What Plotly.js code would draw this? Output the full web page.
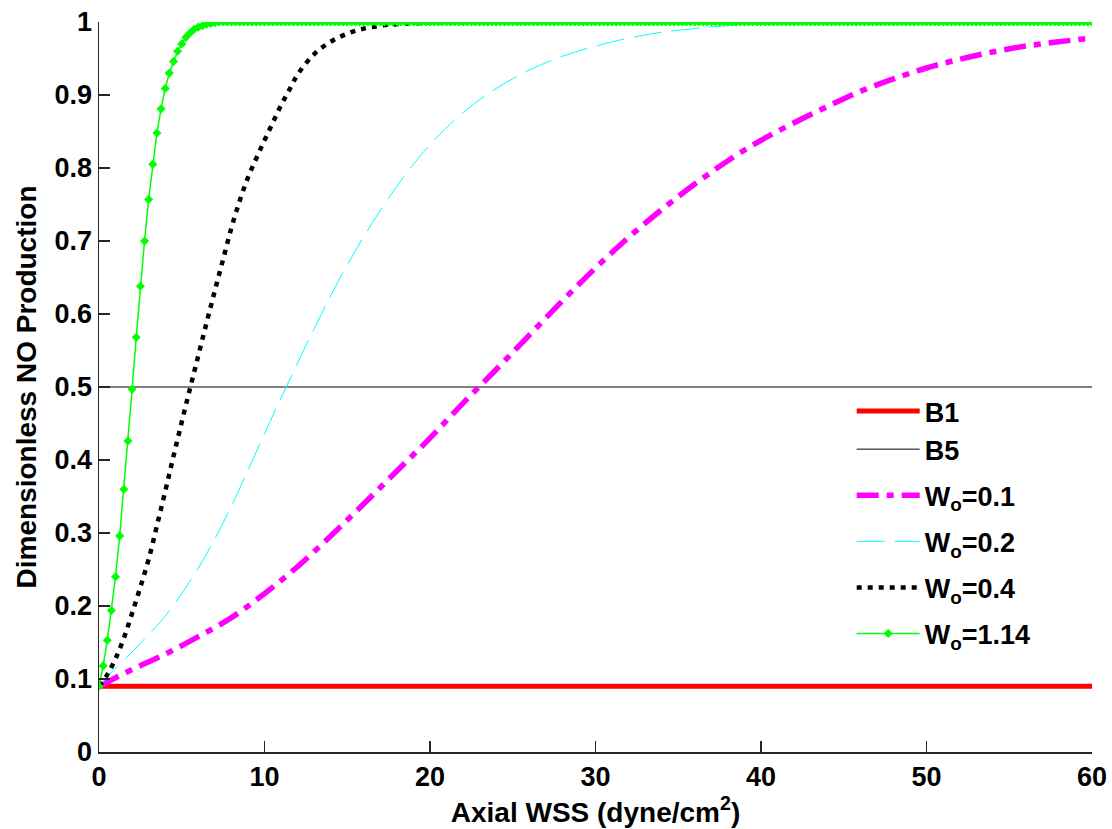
<!DOCTYPE html>
<html>
<head>
<meta charset="utf-8">
<script src="https://cdn.plot.ly/plotly-3.0.1.min.js"></script>
<style>html,body{margin:0;padding:0;background:#fff;}#chart{width:1112px;height:829px;}</style>
</head>
<body>
<div id="chart"></div>
<script>
// Reference lines
const b1X = [0, 60];
const b1Y = [0.09, 0.09];
const b5X = [0, 60];
const b5Y = [0.5, 0.5];

// Wo = 0.1
const m1X = [0,2,4,6,8,10,12,14,16,18,20,22,24,26,28,30,32,34,36,38,40,42,44,46,48,50,52,54,56,58,60];
const m1Y = [0.09,0.113,0.134,0.158,0.184,0.217,0.254,0.296,0.340,0.385,0.430,0.478,0.524,0.571,0.618,0.663,0.705,0.743,0.778,0.810,0.838,0.862,0.884,0.905,0.922,0.937,0.949,0.959,0.967,0.973,0.978];

// Wo = 0.2
const c2X = [0,1,2,3,4,5,6,7,8,9,10,11,12,13,14,15,16,17,18,19,20,22,24,26,28,30,32,34,36,38,40,45,50,55,60];
const c2Y = [0.09,0.115,0.137,0.161,0.186,0.217,0.252,0.292,0.337,0.386,0.436,0.485,0.533,0.580,0.625,0.667,0.706,0.742,0.775,0.805,0.832,0.876,0.909,0.934,0.953,0.967,0.978,0.986,0.991,0.995,0.997,0.999,1,1,1];

// Wo = 0.4
const k4X = [0,0.5,1,1.5,2,2.5,3,3.5,4,4.5,5,5.5,6,6.5,7,7.5,8,8.5,9,9.5,10,10.5,11,11.5,12,13,14,15,16,17,18,20,22,25,30,40,50,60];
const k4Y = [0.09,0.106,0.128,0.156,0.19,0.226,0.264,0.31,0.357,0.405,0.452,0.498,0.543,0.588,0.632,0.675,0.718,0.755,0.787,0.813,0.838,0.862,0.886,0.907,0.928,0.956,0.973,0.984,0.991,0.995,0.997,0.999,1,1,1,1,1,1];

// Wo = 1.14 (sampled every 0.25 dyne/cm2 from 0 to 60)
const gStep = 0.25;
const g114Y = [
0.09,0.118,0.153,0.194,0.240,0.296,0.360,0.426,0.497,0.568,
0.638,0.700,0.757,0.805,0.848,0.881,0.909,0.930,0.946,0.960,
0.970,0.979,0.985,0.990,0.993,0.995,0.997,0.998,0.999,
1,1,1,1,1,1,1,1,1,1,1,1,1,1,1,1,1,1,1,1,
1,1,1,1,1,1,1,1,1,1,1,1,1,1,1,1,1,1,1,1,
1,1,1,1,1,1,1,1,1,1,1,1,1,1,1,1,1,1,1,1,
1,1,1,1,1,1,1,1,1,1,1,1,1,1,1,1,1,1,1,1,
1,1,1,1,1,1,1,1,1,1,1,1,1,1,1,1,1,1,1,1,
1,1,1,1,1,1,1,1,1,1,1,1,1,1,1,1,1,1,1,1,
1,1,1,1,1,1,1,1,1,1,1,1,1,1,1,1,1,1,1,1,
1,1,1,1,1,1,1,1,1,1,1,1,1,1,1,1,1,1,1,1,
1,1,1,1,1,1,1,1,1,1,1,1,1,1,1,1,1,1,1,1,
1,1,1,1,1,1,1,1,1,1,1,1,1,1,1,1,1,1,1,1,
1,1,1,1,1,1,1,1,1,1,1,1
];
const g114X = g114Y.map((_, i) => i * gStep);

const xTicks = [0,10,20,30,40,50,60];
const xTickText = ['0','10','20','30','40','50','60'];
const yTicks = [0,0.1,0.2,0.3,0.4,0.5,0.6,0.7,0.8,0.9,1];
const yTickText = ['0','0.1','0.2','0.3','0.4','0.5','0.6','0.7','0.8','0.9','1'];

const FONT = 'Liberation Sans, Arial, sans-serif';
const bold = s => '<b>' + s + '</b>';

const traces = [
  {x: b1X, y: b1Y, name: '<b>B1</b>', legendgroup: 'b', mode: 'lines', line: {color: '#ff0000', width: 5}},
  {x: b5X, y: b5Y, name: '<b>B5</b>', legendgroup: 'b', mode: 'lines', line: {color: '#000000', width: 1}},
  {x: m1X, y: m1Y, name: '<b>W<sub>o</sub>=0.1</b>', legendgroup: 'w1', mode: 'lines', line: {color: '#ff00ff', width: 5.5, dash: '22px,8px,7px,8px', shape: 'spline'}},
  {x: c2X, y: c2Y, name: '<b>W<sub>o</sub>=0.2</b>', legendgroup: 'w2', mode: 'lines', line: {color: '#00ffff', width: 1, dash: '28px,10px', shape: 'spline'}},
  {x: k4X, y: k4Y, name: '<b>W<sub>o</sub>=0.4</b>', legendgroup: 'w4', mode: 'lines', line: {color: '#000000', width: 4.5, dash: '5px,6px', shape: 'spline'}},
  {x: g114X, y: g114Y, name: '<b>W<sub>o</sub>=1.14</b>', legendgroup: 'w114', mode: 'lines+markers', line: {color: '#00ff00', width: 1.5}, marker: {color: '#00ff00', symbol: 'diamond', size: 7}}
];

const layout = {
  width: 1112, height: 829,
  margin: {l: 99, r: 20, t: 22, b: 77},
  paper_bgcolor: '#ffffff', plot_bgcolor: '#ffffff',
  showlegend: true,
  font: {family: FONT, size: 27, color: '#000000'},
  xaxis: {
    range: [0, 60], tickmode: 'array', tickvals: xTicks, ticktext: xTickText.map(bold),
    ticks: 'inside', ticklen: 11, tickwidth: 1.5, tickcolor: '#262626',
    showline: true, linecolor: '#262626', linewidth: 1.5, mirror: false,
    showgrid: false, zeroline: false,
    tickfont: {family: FONT, size: 27, color: '#000000'},
    title: {text: '<b>Axial WSS (dyne/cm<sup>2</sup>)</b>', font: {family: FONT, size: 28, color: '#000000'}, standoff: 4}
  },
  yaxis: {
    range: [0, 1], tickmode: 'array', tickvals: yTicks, ticktext: yTickText.map(bold),
    ticks: 'inside', ticklen: 11, tickwidth: 1.5, tickcolor: '#262626',
    showline: true, linecolor: '#262626', linewidth: 1.5, mirror: false,
    showgrid: false, zeroline: false,
    tickfont: {family: FONT, size: 27, color: '#000000'},
    title: {text: '<b>Dimensionless NO Production</b>', font: {family: FONT, size: 28, color: '#000000'}, standoff: 10}
  },
  legend: {
    x: 0.758, y: 0.500, xanchor: 'left', yanchor: 'top',
    bgcolor: 'rgba(0,0,0,0)', borderwidth: 0,
    itemwidth: 63, tracegroupgap: 8, traceorder: 'grouped',
    font: {family: FONT, size: 27, color: '#000000'}
  }
};

Plotly.newPlot('chart', traces, layout, {displayModeBar: false, staticPlot: true});
</script>
</body>
</html>
